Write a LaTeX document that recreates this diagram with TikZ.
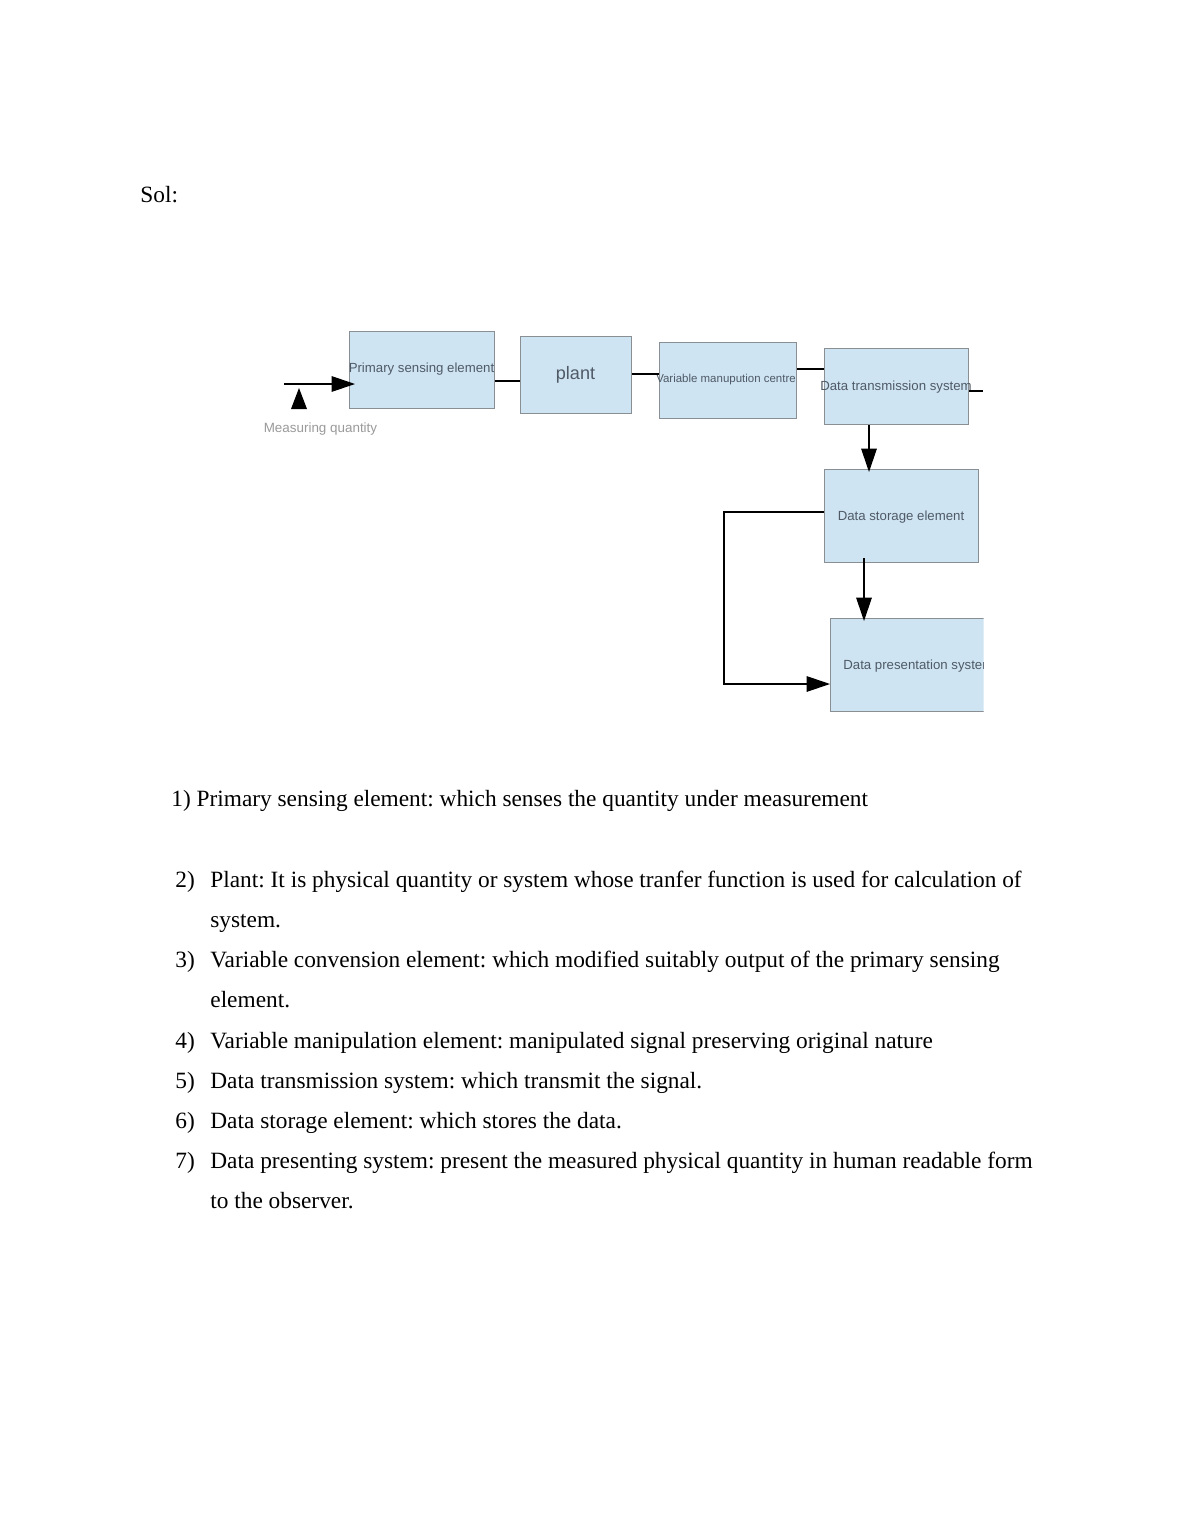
\documentclass[tikz,border=0pt]{standalone}
\usepackage{fontspec}
\setmainfont{Liberation Serif}
\newfontfamily\diagfont{Liberation Sans}
\usetikzlibrary{arrows.meta}
\frenchspacing
\definecolor{boxfill}{HTML}{CFE4F2}
\definecolor{boxline}{HTML}{8A8F94}
\definecolor{boxtext}{HTML}{4F5A66}
\definecolor{mqtext}{HTML}{9A9A9A}
\tikzset{
  blk/.style={draw=boxline, fill=boxfill, line width=0.6pt, inner sep=0pt, anchor=north west},
  blktext/.style={font=\diagfont, text=boxtext, inner sep=0pt},
  wire/.style={line width=0.6pt, draw=black},
  arr/.style={wire, -{Triangle[length=12pt,width=8pt]}},
  body/.style={font=\fontsize{12pt}{14pt}\selectfont\frenchspacing, inner sep=0pt, anchor=base west},
}
\begin{document}
\begin{tikzpicture}[x=0.5143pt, y=-0.5143pt]
\useasboundingbox (0,0) rectangle (1190,1540);
\fill[white] (0,0) rectangle (1190,1540);

\node[body] (sol) at (140,202) {Sol:};

% boxes
\node[blk, minimum width=145*0.5143pt, minimum height=77*0.5143pt] (pse) at (349,331) {};
\node[blk, minimum width=111*0.5143pt, minimum height=77*0.5143pt] (plant) at (520,336) {};
\node[blk, minimum width=137*0.5143pt, minimum height=76*0.5143pt] (vmc) at (659,342) {};
\node[blk, minimum width=144*0.5143pt, minimum height=76*0.5143pt] (dts) at (824,348) {};
\node[blk, minimum width=154*0.5143pt, minimum height=93*0.5143pt] (dse) at (824,469) {};
\begin{scope}
\clip (820,610) rectangle (983.5,720);
\node[blk, minimum width=170*0.5143pt, minimum height=93*0.5143pt] (dps) at (830,618) {};
\node[blktext, font=\diagfont\fontsize{6.8pt}{8pt}\selectfont, anchor=west] (dpst) at (843,666) {Data presentation system};
\end{scope}

% box texts
\node[blktext, font=\diagfont\fontsize{6.8pt}{8pt}\selectfont] (psel) at (421.5,369) {Primary sensing element};
\node[blktext, font=\diagfont\fontsize{9.3pt}{11pt}\selectfont] (plantl) at (575.5,375) {plant};
\node[blktext, font=\diagfont\fontsize{5.9pt}{7pt}\selectfont] (vmcl) at (726,380) {Variable manupution centre};
\node[blktext, font=\diagfont\fontsize{6.8pt}{8pt}\selectfont] (dtsl) at (896,387) {Data transmission system};
\node[blktext, font=\diagfont\fontsize{6.8pt}{8pt}\selectfont] (dsel) at (901,517) {Data storage element};
\node[font=\diagfont\fontsize{6.9pt}{8pt}\selectfont, text=mqtext, inner sep=0pt] (mq) at (320.5,429) {Measuring quantity};

% input arrow
\coordinate (in0) at (284,384);
\coordinate (in1) at (355,384);
\draw[arr] (in0) -- (in1);
\coordinate (tA) at (299,388);
\coordinate (tB) at (291,409);
\coordinate (tC) at (307,409);
\fill[black] (tA) -- (tB) -- (tC) -- cycle;

% connectors
\draw[wire] (pse.east |- 0,381) -- (plant.west |- 0,381);
\draw[wire] (plant.east |- 0,374) -- (vmc.west |- 0,374);
\draw[wire] (vmc.east |- 0,369) -- (dts.west |- 0,369);
\coordinate (stub) at (983,391);
\draw[wire] (dts.east |- stub) -- (stub);
\draw[arr] (dts.south -| 869,0) -- (869,472);
\coordinate (ds1) at (864,558);
\draw[arr] (ds1) -- (864,621);
\coordinate (fb1) at (724,512);
\coordinate (fb2) at (724,684);
\draw[wire, -{Triangle[length=12pt,width=8pt]}] (dse.west |- fb1) -- (fb1) -- (fb2) -- (dps.west |- fb2);

% list
\node[body] (i1) at (171,806) {1) Primary sensing element: which senses the quantity under measurement};
\node[body] (n2) at (175,887) {2)};
\node[body] (t2) at (210,887) {Plant: It is physical quantity or system whose tranfer function is used for calculation of};
\node[body] (t2b) at (210,927) {system.};
\node[body] (n3) at (175,967) {3)};
\node[body] (t3) at (210,967) {Variable convension element: which modified suitably output of the primary sensing};
\node[body] (t3b) at (210,1007) {element.};
\node[body] (n4) at (175,1048) {4)};
\node[body] (t4) at (210,1048) {Variable manipulation element: manipulated signal preserving original nature};
\node[body] (n5) at (175,1088) {5)};
\node[body] (t5) at (210,1088) {Data transmission system: which transmit the signal.};
\node[body] (n6) at (175,1128) {6)};
\node[body] (t6) at (210,1128) {Data storage element: which stores the data.};
\node[body] (n7) at (175,1168) {7)};
\node[body] (t7) at (210,1168) {Data presenting system: present the measured physical quantity in human readable form};
\node[body] (t7b) at (210,1208) {to the observer.};
\end{tikzpicture}
\end{document}
